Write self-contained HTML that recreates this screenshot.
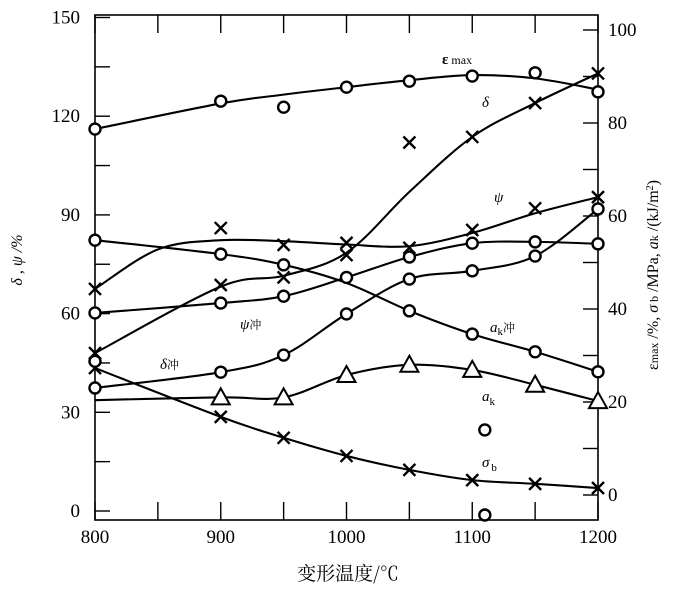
<!DOCTYPE html>
<html><head><meta charset="utf-8"><style>
body{margin:0;background:#fff;}
svg{display:block;font-family:"Liberation Serif","Noto Serif CJK SC",serif;}
</style></head><body>
<svg id="chart" width="675" height="600" viewBox="0 0 675 600" xmlns="http://www.w3.org/2000/svg">
<g id="axes"></g>
<g id="series"></g>
<g id="labels" font-size="15" font-style="italic">
<text x="442" y="64" font-style="normal" font-weight="bold" font-size="15">ε<tspan font-size="12" font-weight="normal" dx="3">max</tspan></text>
<text x="482" y="107">δ</text>
<text x="494" y="202">ψ</text>
<text x="240" y="329">ψ<tspan font-style="normal" font-size="12">冲</tspan></text>
<text x="490" y="332">a<tspan font-size="11" font-style="normal" dy="3">k</tspan><tspan font-style="normal" font-size="12" dy="-3">冲</tspan></text>
<text x="160" y="369">δ<tspan font-style="normal" font-size="12">冲</tspan></text>
<text x="482" y="401">a<tspan font-size="11" font-style="normal" dy="4">k</tspan></text>
<text x="482" y="467">σ<tspan font-size="11" font-style="normal" dy="4" dx="2">b</tspan></text>
</g>
<text x="348" y="580" text-anchor="middle" font-size="19" font-family="'Noto Serif CJK SC',serif">变形温度/℃</text>
<text transform="translate(22,260) rotate(-90)" text-anchor="middle" font-size="16" font-style="italic">δ , ψ /%</text>
<text transform="translate(658,275) rotate(-90)" text-anchor="middle" font-size="16">ε<tspan font-size="12">max</tspan> /%, <tspan font-style="italic">σ</tspan><tspan font-size="12"> b</tspan> /MPa, <tspan font-style="italic">a</tspan><tspan font-size="12">k</tspan> /(kJ/m<tspan font-size="10" dy="-5">2</tspan><tspan dy="5">)</tspan></text>
</svg>
<script>
const temps=[800,900,950,1000,1050,1100,1150,1200];
const leftTicks=[0,30,60,90,120,150];
const rightTicks=[0,20,40,60,80,100];
const xTicks=[800,900,1000,1100,1200];
const emax=[78.7,84.7,83.4,87.7,89.0,90.1,90.8,86.7];
const emaxFit=[78.7,84.2,86.1,87.7,89.2,90.3,89.6,87.2];
const akChong=[54.8,51.8,49.5,45.6,39.6,34.6,30.8,26.5];
const psiChong=[60.2,63.2,65.3,71,77.2,81.4,81.8,81.2];
const deltaChong=[37.4,42.2,47.4,59.9,70.5,73,77.5,91.8];
const delta=[48,68.7,71,77.8,112,113.7,124,133];
const deltaFit=[48,68.2,71.5,78.5,97,113.7,124,133];
const psi=[67.5,86,80.9,81.5,80,85.4,92,95.4];
const psiFitTemps=[800,850,900,950,1000,1050,1100,1150,1200];
const psiFit=[67.5,79.5,82.3,82,81,80.5,84.5,90.5,95.4];
const ak=[20.4,21,21,25.8,28,26.9,23.7,20.2];
const sigmaB=[27.3,16.8,12.3,8.4,5.4,3.2,2.4,1.5];
const outlierTemps=[1110,1110,800];
const outlierRight=[14,-4.3];
const outlierLeft=[45.5];

const X0=95,X1=598,YB=520,YT=15;
const xs=t=>X0+(t-800)/400*(X1-X0);
const yl=v=>511-v*3.29;
const yr=v=>495-v*4.65;
const NS='http://www.w3.org/2000/svg';
function mk(tag,parent,attrs){const e=document.createElementNS(NS,tag);for(const k in attrs)e.setAttribute(k,attrs[k]);parent.appendChild(e);return e;}
const axes=document.getElementById('axes'),ser=document.getElementById('series');
let f=mk('rect',axes,{x:X0,y:YT,width:X1-X0,height:YB-YT,fill:'none',stroke:'#000','stroke-width':1.6});

for(let t=800;t<=1200;t+=50){
 const l1=mk('line',axes,{x1:xs(t),x2:xs(t),y1:YT,y2:YT+18,stroke:'#000','stroke-width':1.4});
 
 const l2=mk('line',axes,{x1:xs(t),x2:xs(t),y1:YB,y2:YB-18,stroke:'#000','stroke-width':1.4});
 
}
xTicks.forEach(t=>{const e=mk('text',axes,{x:xs(t),y:543,'text-anchor':'middle','font-size':19});e.textContent=t;
 });
for(let v=0;v<=150;v+=15){const l=mk('line',axes,{x1:X0,x2:X0+15,y1:yl(v),y2:yl(v),stroke:'#000','stroke-width':1.4});
 }
leftTicks.forEach(v=>{const e=mk('text',axes,{x:80,y:yl(v)+6,'text-anchor':'end','font-size':19});e.textContent=v;
 });
for(let v=0;v<=100;v+=10){const l=mk('line',axes,{x1:X1,x2:X1-15,y1:yr(v),y2:yr(v),stroke:'#000','stroke-width':1.4});
 }
rightTicks.forEach(v=>{const e=mk('text',axes,{x:608,y:yr(v)+6,'font-size':19});e.textContent=v;
 });

function curve(pts){let d='M'+pts[0][0]+','+pts[0][1];
 for(let i=0;i<pts.length-1;i++){const p0=pts[Math.max(0,i-1)],p1=pts[i],p2=pts[i+1],p3=pts[Math.min(pts.length-1,i+2)];
  d+=' C'+(p1[0]+(p2[0]-p0[0])/6)+','+(p1[1]+(p2[1]-p0[1])/6)+' '+(p2[0]-(p3[0]-p1[0])/6)+','+(p2[1]-(p3[1]-p1[1])/6)+' '+p2[0]+','+p2[1];}
 return d;}
function marker(kind,x,y){let e;
 if(kind==='o'){e=mk('circle',ser,{cx:x,cy:y,r:5.5,fill:'#fff',stroke:'#000','stroke-width':2.4});}
 else if(kind==='x'){e=mk('path',ser,{d:`M${x-6},${y-6}L${x+6},${y+6}M${x-6},${y+6}L${x+6},${y-6}`,stroke:'#000','stroke-width':2.4,fill:'none'});}
 else {e=mk('path',ser,{d:`M${x},${y-9}L${x+9},${y+7}L${x-9},${y+7}Z`,fill:'#fff',stroke:'#000','stroke-width':2});}
 }
function series(name,vals,ys,kind,cT,cV,noMarker){
 const pts=cT.map((t,i)=>[xs(t),ys(cV[i])]);
 const p=mk('path',ser,{d:curve(pts),fill:'none',stroke:'#000','stroke-width':2.1});
 
 vals.forEach((v,i)=>{if(!noMarker.includes(i))marker(kind,xs(temps[i]),ys(v));});}
series('emax',emax,yr,'o',temps,emaxFit,[]);
series('ak-chong',akChong,yr,'o',temps,akChong,[3]);
series('psi-chong',psiChong,yl,'o',temps,psiChong,[]);
series('delta-chong',deltaChong,yl,'o',temps,deltaChong,[]);
series('delta',delta,yl,'x',temps,deltaFit,[]);
series('psi',psi,yl,'x',psiFitTemps,psiFit,[]);
series('ak',ak,yr,'t',temps,ak,[0]);
series('sigma-b',sigmaB,yr,'x',temps,sigmaB,[]);
marker('o',xs(outlierTemps[0]),yr(outlierRight[0]));
marker('o',xs(outlierTemps[1]),yr(outlierRight[1]));
marker('o',xs(outlierTemps[2]),yl(outlierLeft[0]));
</script>
</body></html>
